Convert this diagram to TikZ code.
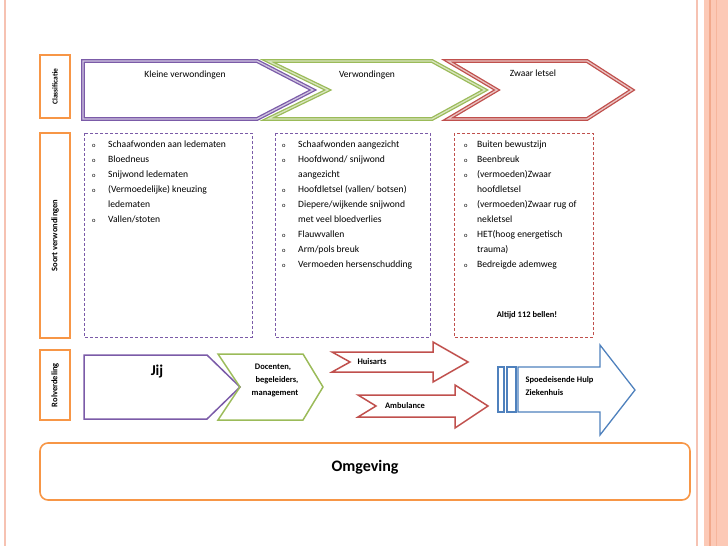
\documentclass[tikz,border=0pt]{standalone}
\usepackage{fontspec}
\setmainfont{Carlito}
\usepackage{tikz}

\definecolor{paars}{HTML}{7B5BA8}
\definecolor{groen}{HTML}{9BBB59}
\definecolor{rood}{HTML}{C0504D}
\definecolor{blauw}{HTML}{4F81BD}
\definecolor{oranje}{HTML}{F79646}
\definecolor{rand}{HTML}{F6C2B2}
\definecolor{band}{HTML}{FCC9B6}
\definecolor{banddonker}{HTML}{F2A98C}

\newcommand{\bol}[1]{\makebox[#1][l]{\fontsize{6.5}{6.5}\selectfont o}}

\begin{document}
\begin{tikzpicture}[x=1pt,y=-1pt,
	kader/.style={draw=oranje,line width=2pt},
	zijtekst/.style={rotate=90,font=\fontsize{8.5}{10}\selectfont\bfseries},
	dubbel/.style={line width=1.3pt,double distance=1.3pt},
	stip/.style={line width=0.9pt,dash pattern=on 3pt off 2pt},
	lijst/.style={anchor=base west,inner sep=0pt,font=\fontsize{9.6}{15}\selectfont},
	titel/.style={font=\fontsize{9.5}{11}\selectfont},
	vet/.style={font=\fontsize{8.5}{13}\selectfont\bfseries}]
	\useasboundingbox (0,0) rectangle (728,546);
	%Dia
	\draw[rand,line width=1.2pt] (5,0) -- (5,546);
	\draw[rand,line width=1.2pt] (697,0) -- (697,546);
	\fill[band] (704,0) rectangle (728,546);
	\draw[banddonker,line width=1.2pt] (710,0) -- (710,546);
	\draw[banddonker!60!band,line width=0.8pt] (716,0) -- (716,546);
	%Kaders links
	\draw[kader] (40,55) rectangle (70,118);
	\draw[kader] (40,133) rectangle (70,338);
	\draw[kader] (40,350) rectangle (70,420);
	\node[zijtekst,font=\fontsize{7.5}{9}\selectfont\bfseries] (klas) at (55,86.5) {Classificatie};
	\node[zijtekst] (soort) at (55,235.5) {Soort verwondingen};
	\node[zijtekst] (rol) at (55,385) {Rolverdeling};
	%Classificatie
	\draw[dubbel,draw=paars,double=paars!35] (83,61) -- (257,61) -- (313,90) -- (257,119) -- (83,119) -- cycle;
	\draw[dubbel,draw=groen,double=groen!40] (268,61) -- (432,61) -- (485,90) -- (432,119) -- (268,119) -- (328,90) -- cycle;
	\draw[dubbel,draw=rood,double=rood!35] (448,61) -- (587,61) -- (632,90) -- (587,119) -- (448,119) -- (497,90) -- cycle;
	\node[titel] (klein) at (185,75) {Kleine verwondingen};
	\node[titel] (verw) at (367,75) {Verwondingen};
	\node[titel] (zwaar) at (533,73) {Zwaar letsel};
	%Soort verwondingen
	\draw[stip,draw=paars] (84,133) rectangle (252,337);
	\draw[stip,draw=paars] (275,133) rectangle (430,337);
	\draw[stip,draw=rood] (454,133) rectangle (593,337);
	\node[lijst] (lijst1) at (92,147) {\begin{tabular}[t]{@{}l@{}l@{}}
		\bol{16pt} & Schaafwonden aan ledematen\\
		\bol{16pt} & Bloedneus\\
		\bol{16pt} & Snijwond ledematen\\
		\bol{16pt} & (Vermoedelijke) kneuzing\\
		& ledematen\\
		\bol{16pt} & Vallen/stoten
	\end{tabular}};
	\node[lijst] (lijst2) at (282,147) {\begin{tabular}[t]{@{}l@{}l@{}}
		\bol{16pt} & Schaafwonden aangezicht\\
		\bol{16pt} & Hoofdwond/ snijwond\\
		& aangezicht\\
		\bol{16pt} & Hoofdletsel (vallen/ botsen)\\
		\bol{16pt} & Diepere/wijkende snijwond\\
		& met veel bloedverlies\\
		\bol{16pt} & Flauwvallen\\
		\bol{16pt} & Arm/pols breuk\\
		\bol{16pt} & Vermoeden hersenschudding
	\end{tabular}};
	\node[lijst] (lijst3) at (464,147) {\begin{tabular}[t]{@{}l@{}l@{}}
		\bol{13pt} & Buiten bewustzijn\\
		\bol{13pt} & Beenbreuk\\
		\bol{13pt} & (vermoeden)Zwaar\\
		& hoofdletsel\\
		\bol{13pt} & (vermoeden)Zwaar rug of\\
		& nekletsel\\
		\bol{13pt} & HET(hoog energetisch\\
		& trauma)\\
		\bol{13pt} & Bedreigde ademweg
	\end{tabular}};
	\node[vet] (bellen) at (527,315) {Altijd 112 bellen!};
	%Rolverdeling
	\draw[paars,line width=1.5pt] (84,355) -- (207,355) -- (240,387) -- (207,419) -- (84,419) -- cycle;
	\draw[groen,line width=1.5pt] (218,354) -- (303,354) -- (323,387) -- (303,420) -- (218,420) -- (240,387) -- cycle;
	\node[font=\fontsize{15}{18}\selectfont\bfseries] (jij) at (157,372) {Jij};
	\node[vet,align=center] (docenten) at (273,380) {Docenten,\\\hspace*{8pt}begeleiders,\\\hspace*{4pt}management};
	\draw[rood,line width=1.5pt] (332,352) -- (433,352) -- (433,342) -- (468,362) -- (433,382) -- (433,372) -- (332,372) -- (350,362) -- cycle;
	\draw[rood,line width=1.5pt] (358,395) -- (455,395) -- (455,385) -- (488,406) -- (455,428) -- (455,417) -- (358,417) -- (376,406) -- cycle;
	\node[vet] (huisarts) at (372,362) {Huisarts};
	\node[vet] (ambulance) at (405,406) {Ambulance};
	\draw[blauw,line width=1.3pt] (498,367) rectangle (504,412);
	\draw[blauw,line width=1.3pt] (507,367) rectangle (516,412);
	\draw[blauw,line width=1.3pt] (518,367) -- (600,367) -- (600,345) -- (635,390) -- (600,435) -- (600,412) -- (518,412) -- cycle;
	\node[vet,align=left,anchor=west] (seh) at (522,386) {Spoedeisende Hulp\\Ziekenhuis};
	%Omgeving
	\draw[oranje,line width=1.6pt,rounded corners=8pt] (40,443) rectangle (690,500);
	\node[font=\fontsize{16}{19}\selectfont\bfseries] (omgeving) at (365,467) {Omgeving};
\end{tikzpicture}
\end{document}
